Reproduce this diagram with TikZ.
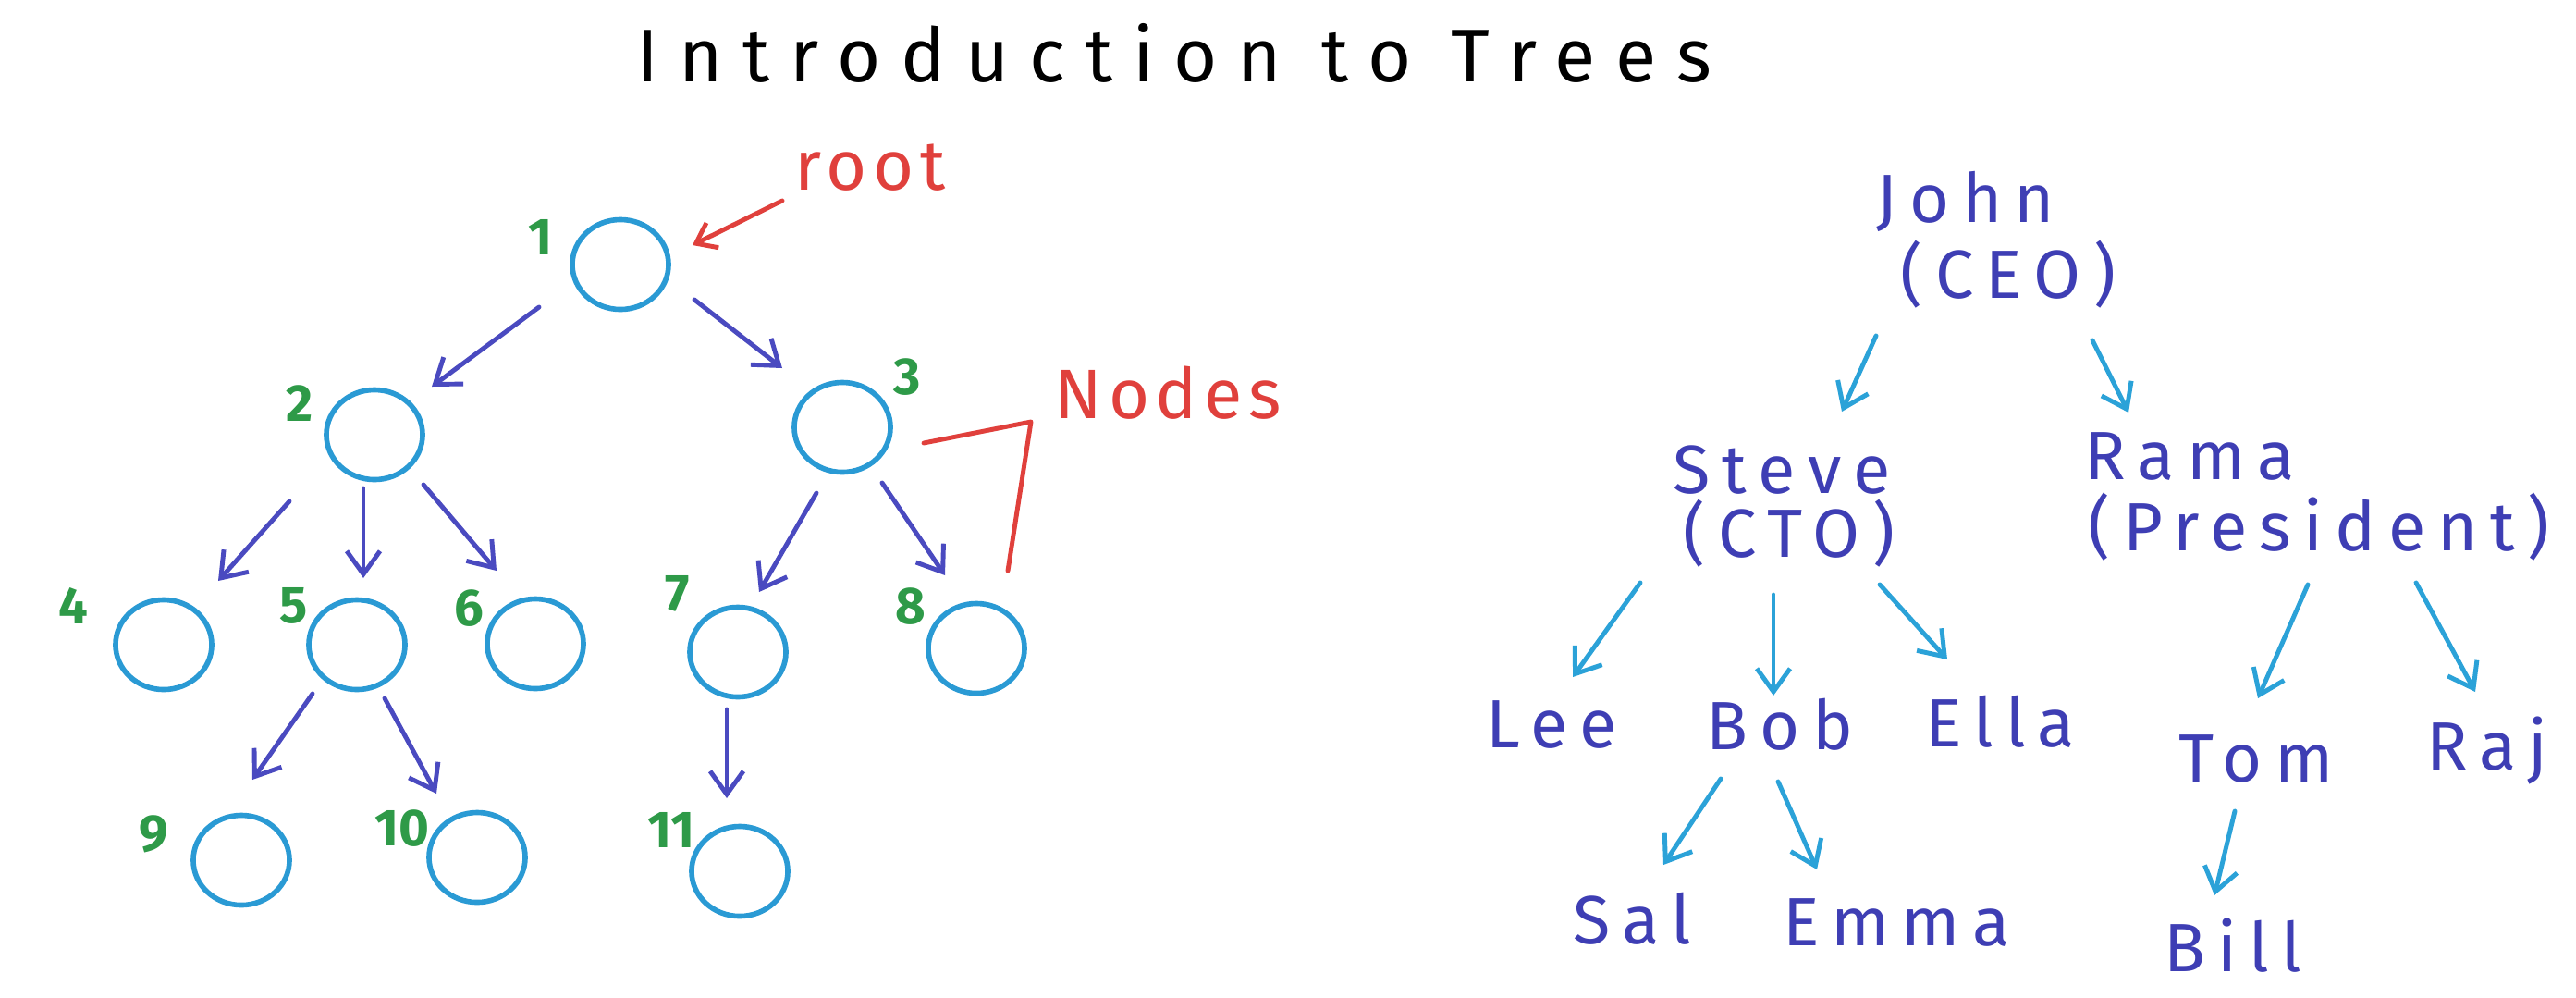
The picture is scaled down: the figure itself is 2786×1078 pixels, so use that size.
\documentclass[tikz,border=0pt]{standalone}
\usepackage{fontspec}
\setmainfont{Fira Sans}
\newfontfamily\titlefont[LetterSpace=27]{Fira Sans}
\newfontfamily\namefont[LetterSpace=18]{Fira Sans}
\newfontfamily\redfont[LetterSpace=9]{Fira Sans}
\usetikzlibrary{arrows.meta,calc,shapes.geometric}
\definecolor{circblue}{HTML}{2A9AD4}
\definecolor{arrblue}{HTML}{4A4AC0}
\definecolor{numgreen}{HTML}{2E9A48}
\definecolor{redink}{HTML}{E0403C}
\definecolor{nameblue}{HTML}{3E3EB4}
\definecolor{cyanarr}{HTML}{2BA2D8}
\tikzset{
  circ/.style={ellipse, draw=circblue, line width=1.6pt, minimum width=1.04cm, minimum height=0.97cm, inner sep=0pt},
  num/.style={text=numgreen, font=\fontsize{16}{16}\selectfont\bfseries, inner sep=0pt},
  arr/.style={draw=arrblue, line width=1.4pt, line cap=round, -{Straight Barb[length=0.25cm,width=0.36cm,line width=1.4pt]}},
  carr/.style={draw=cyanarr, line width=1.4pt, line cap=round, -{Straight Barb[length=0.25cm,width=0.36cm,line width=1.4pt]}},
  rarr/.style={draw=redink, line width=1.4pt, line cap=round, -{Straight Barb[length=0.2cm,width=0.3cm,line width=1.4pt]}},
  rline/.style={draw=redink, line width=1.4pt, line cap=round, line join=round},
  personlab/.style={text=nameblue, font=\namefont\fontsize{21}{24}\selectfont, inner sep=0pt, anchor=base},
  redlab/.style={text=redink, font=\redfont\fontsize{21.5}{24}\selectfont, inner sep=0pt, anchor=base},
  titlelab/.style={font=\titlefont\fontsize{23}{26}\selectfont, anchor=base, inner sep=0pt},
}
\begin{document}
\begin{tikzpicture}[x=0.01cm,y=-0.01cm]
\path[use as bounding box, fill=white] (0,0) rectangle (2786,1078);
% title
\node[titlelab] (title) at (1270,88) {Introduction to Trees};
% left tree nodes
\node[circ] (n1) at (671,286) {};
\node[circ] (n2) at (405,470) {};
\node[circ] (n3) at (911,462) {};
\node[circ] (n4) at (177,697) {};
\node[circ] (n5) at (386,697) {};
\node[circ] (n6) at (579,696) {};
\node[circ] (n7) at (798,705) {};
\node[circ] (n8) at (1056,701) {};
\node[circ] (n9) at (261,930) {};
\node[circ] (n10) at (516,927) {};
\node[circ] (n11) at (800,942) {};
% numbers
\node[num] (l1) at (585,256) {1};
\node[num] (l2) at (324,436) {2};
\node[num] (l3) at (981,408) {3};
\node[num] (l4) at (79,655) {4};
\node[num] (l5) at (318,655) {5};
\node[num] (l6) at (507,658) {6};
\node[num] (l7) at (733,642) {7};
\node[num] (l8) at (985,656) {8};
\node[num] (l9) at (166,902) {9};
\node[num] (l10) at (435,896) {10};
\node[num] (l11) at (726,897) {11};
% left arrows
\draw[arr] ($(n1)+(-88,46)$) -- ($(n2)+(62,-52)$);
\draw[arr] ($(n1)+(80,38)$) -- ($(n3)+(-65,-64)$);
\draw[arr] ($(n2)+(-92,72)$) -- ($(n4)+(59,-69)$);
\draw[arr] ($(n2)+(-12,58)$) -- ($(n5)+(7,-72)$);
\draw[arr] ($(n2)+(53,54)$) -- ($(n6)+(-42,-79)$);
\draw[arr] ($(n3)+(-28,71)$) -- ($(n7)+(23,-65)$);
\draw[arr] ($(n3)+(43,60)$) -- ($(n8)+(-34,-79)$);
\draw[arr] ($(n5)+(-48,53)$) -- ($(n9)+(12,-87)$);
\draw[arr] ($(n5)+(30,58)$) -- ($(n10)+(-44,-69)$);
\draw[arr] ($(n7)+(-12,62)$) -- ($(n11)+(-14,-79)$);
% red annotations
\node[redlab] (root) at (941,205) {root};
\node[redlab] (nodes) at (1263,452) {Nodes};
\draw[rarr] ($(root.base)+(-95,12)$) -- ($(n1)+(78,-21)$);
\draw[rline] ($(n3)+(88,17)$) -- ($(nodes.base)+(-148,4)$) -- ($(n8)+(34,-84)$);
% right tree
\node[personlab] (john) at (2126,240) {John};
\node[personlab] (ceo) at (2172,322) {(CEO)};
\node[personlab] (steve) at (1927,533) {Steve};
\node[personlab] (cto) at (1935,602) {(CTO)};
\node[personlab] (rama) at (2368,518) {Rama};
\node[personlab] (pres) at (2508,595) {(President)};
\node[personlab] (lee) at (1678,808) {Lee};
\node[personlab] (bob) at (1925,810) {Bob};
\node[personlab] (ella) at (2163,807) {Ella};
\node[personlab] (tom) at (2440,845) {Tom};
\node[personlab] (raj) at (2690,832) {Raj};
\node[personlab] (sal) at (1765,1020) {Sal};
\node[personlab] (emma) at (2051,1022) {Emma};
\node[personlab] (bill) at (2415,1050) {Bill};
\draw[carr] ($(ceo.base)+(-143,41)$) -- ($(steve.base)+(65,-88)$);
\draw[carr] ($(ceo.base)+(91,46)$) -- ($(rama.base)+(-66,-72)$);
\draw[carr] ($(cto.base)+(-161,28)$) -- ($(lee.base)+(23,-76)$);
\draw[carr] ($(cto.base)+(-17,41)$) -- ($(bob.base)+(-7,-58)$);
\draw[carr] ($(cto.base)+(98,30)$) -- ($(ella.base)+(-57,-94)$);
\draw[carr] ($(pres.base)+(-12,37)$) -- ($(tom.base)+(2,-90)$);
\draw[carr] ($(pres.base)+(105,35)$) -- ($(raj.base)+(-13,-84)$);
\draw[carr] ($(bob.base)+(-64,32)$) -- ($(sal.base)+(34,-85)$);
\draw[carr] ($(bob.base)+(-2,35)$) -- ($(emma.base)+(-86,-82)$);
\draw[carr] ($(tom.base)+(-23,32)$) -- ($(bill.base)+(-20,-82)$);
\end{tikzpicture}
\end{document}
